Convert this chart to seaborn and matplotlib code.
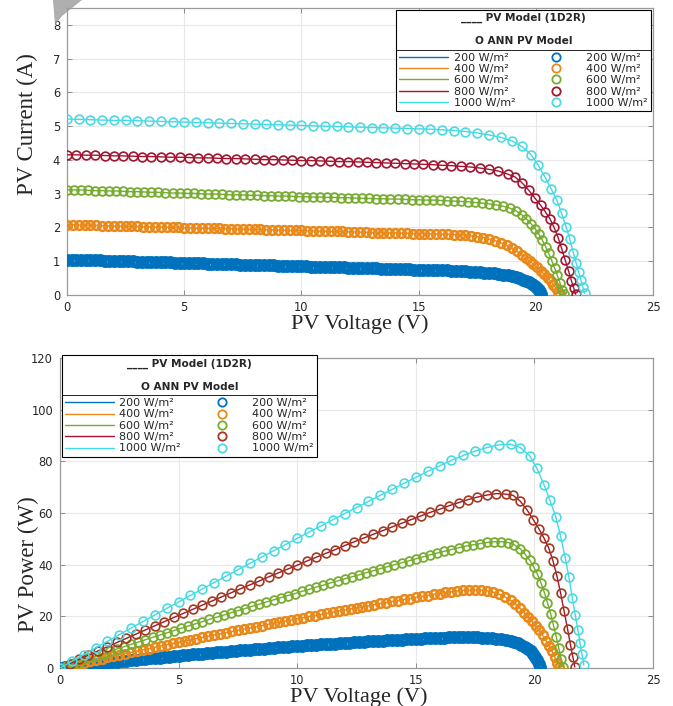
import numpy as np
import matplotlib
matplotlib.use("Agg")
import matplotlib.pyplot as plt
from matplotlib.lines import Line2D
from matplotlib.patches import Polygon
import seaborn as sns

# ---- data (I-V curves, power = V*I) ----
irradiance = ['200', '400', '600', '800', '1000']

v200 = [0, 0.2, 0.4, 0.6, 0.8, 1.0, 1.2, 1.4, 1.6, 1.8,
        2.0, 2.2, 2.4, 2.6, 2.8, 3.0, 3.2, 3.4, 3.6, 3.8,
        4.0, 4.2, 4.4, 4.6, 4.8, 5.0, 5.2, 5.4, 5.6, 5.8,
        6.0, 6.2, 6.4, 6.6, 6.8, 7.0, 7.2, 7.4, 7.6, 7.8,
        8.0, 8.2, 8.4, 8.6, 8.8, 9.0, 9.2, 9.4, 9.6, 9.8,
        10.0, 10.2, 10.4, 10.6, 10.8, 11.0, 11.2, 11.4, 11.6, 11.8,
        12.0, 12.2, 12.4, 12.6, 12.8, 13.0, 13.2, 13.4, 13.6, 13.8,
        14.0, 14.2, 14.4, 14.6, 14.8, 15.0, 15.2, 15.4, 15.6, 15.8,
        16.0, 16.2, 16.4, 16.6, 16.8,
        17.0, 17.2, 17.4, 17.6, 17.8, 18.0, 18.2, 18.4, 18.6, 18.8,
        19.0, 19.15, 19.3, 19.45, 19.6, 19.72, 19.84, 19.95, 20.04, 20.12,
        20.18, 20.22]
i200 = [1.050, 1.046, 1.042, 1.038, 1.034, 1.030, 1.026, 1.022, 1.018, 1.014,
        1.010, 1.006, 1.002, 0.998, 0.994, 0.990, 0.986, 0.982, 0.978, 0.974,
        0.970, 0.966, 0.962, 0.958, 0.954, 0.950, 0.946, 0.942, 0.938, 0.934,
        0.930, 0.926, 0.922, 0.918, 0.914, 0.910, 0.906, 0.902, 0.898, 0.894,
        0.890, 0.886, 0.882, 0.878, 0.874, 0.870, 0.866, 0.862, 0.858, 0.854,
        0.850, 0.846, 0.842, 0.838, 0.834, 0.830, 0.826, 0.822, 0.818, 0.814,
        0.810, 0.806, 0.802, 0.798, 0.794, 0.790, 0.786, 0.782, 0.778, 0.774,
        0.770, 0.766, 0.762, 0.758, 0.754, 0.750, 0.746, 0.742, 0.738, 0.734,
        0.730, 0.726, 0.722, 0.718, 0.714,
        0.700, 0.692, 0.683, 0.673, 0.662, 0.650, 0.636, 0.620, 0.601, 0.578,
        0.550, 0.524, 0.494, 0.458, 0.416, 0.376, 0.330, 0.278, 0.220, 0.150,
        0.080, 0.020]

v400 = [0, 0.25, 0.5, 0.75, 1.0, 1.25, 1.5, 1.75, 2.0, 2.25,
        2.5, 2.75, 3.0, 3.25, 3.5, 3.75, 4.0, 4.25, 4.5, 4.75,
        5.0, 5.25, 5.5, 5.75, 6.0, 6.25, 6.5, 6.75, 7.0, 7.25,
        7.5, 7.75, 8.0, 8.25, 8.5, 8.75, 9.0, 9.25, 9.5, 9.75,
        10.0, 10.25, 10.5, 10.75, 11.0, 11.25, 11.5, 11.75, 12.0, 12.25,
        12.5, 12.75, 13.0, 13.25, 13.5, 13.75, 14.0, 14.25, 14.5, 14.75,
        15.0, 15.25, 15.5, 15.75, 16.0, 16.25, 16.5, 16.75, 17.0, 17.25,
        17.5,
        17.75, 18.0, 18.25, 18.5, 18.75, 19.0, 19.2, 19.4, 19.58, 19.75,
        19.9, 20.05, 20.2, 20.35, 20.5, 20.63, 20.75, 20.86, 20.95, 21.02]
i400 = [2.08, 2.08, 2.07, 2.07, 2.06, 2.06, 2.05, 2.05, 2.04, 2.04,
        2.04, 2.03, 2.03, 2.02, 2.02, 2.01, 2.01, 2.01, 2.00, 2.00,
        1.99, 1.99, 1.98, 1.98, 1.97, 1.97, 1.97, 1.96, 1.96, 1.95,
        1.95, 1.94, 1.94, 1.94, 1.93, 1.93, 1.92, 1.92, 1.91, 1.91,
        1.91, 1.90, 1.90, 1.89, 1.89, 1.88, 1.88, 1.88, 1.87, 1.87,
        1.86, 1.86, 1.85, 1.85, 1.85, 1.84, 1.84, 1.83, 1.83, 1.82,
        1.82, 1.82, 1.81, 1.81, 1.80, 1.80, 1.79, 1.78, 1.77, 1.75,
        1.73,
        1.70, 1.66, 1.61, 1.55, 1.47, 1.38, 1.29, 1.19, 1.09, 1.00,
        0.91, 0.82, 0.72, 0.62, 0.51, 0.41, 0.31, 0.20, 0.10, 0.02]

v600 = [0, 0.3, 0.6, 0.9, 1.2, 1.5, 1.8, 2.1, 2.4, 2.7,
        3.0, 3.3, 3.6, 3.9, 4.2, 4.5, 4.8, 5.1, 5.4, 5.7,
        6.0, 6.3, 6.6, 6.9, 7.2, 7.5, 7.8, 8.1, 8.4, 8.7,
        9.0, 9.3, 9.6, 9.9, 10.2, 10.5, 10.8, 11.1, 11.4, 11.7,
        12.0, 12.3, 12.6, 12.9, 13.2, 13.5, 13.8, 14.1, 14.4, 14.7,
        15.0, 15.3, 15.6, 15.9, 16.2, 16.5, 16.8, 17.1, 17.4, 17.7,
        18.0, 18.3, 18.6,
        18.9, 19.15, 19.4, 19.6, 19.8, 19.97, 20.13, 20.28, 20.42, 20.55,
        20.68, 20.8, 20.92, 21.03, 21.13, 21.22]
i600 = [3.12, 3.11, 3.11, 3.10, 3.09, 3.09, 3.08, 3.08, 3.07, 3.06,
        3.06, 3.05, 3.04, 3.04, 3.03, 3.02, 3.02, 3.01, 3.01, 3.00,
        2.99, 2.99, 2.98, 2.97, 2.97, 2.96, 2.95, 2.95, 2.94, 2.94,
        2.93, 2.93, 2.92, 2.91, 2.91, 2.90, 2.90, 2.89, 2.89, 2.88,
        2.88, 2.87, 2.86, 2.86, 2.85, 2.85, 2.84, 2.84, 2.83, 2.82,
        2.82, 2.81, 2.81, 2.80, 2.79, 2.78, 2.77, 2.76, 2.74, 2.72,
        2.70, 2.67, 2.63,
        2.57, 2.49, 2.38, 2.25, 2.11, 1.96, 1.80, 1.62, 1.43, 1.23,
        1.02, 0.80, 0.58, 0.36, 0.16, 0.02]

v800 = [0, 0.4, 0.8, 1.2, 1.6, 2.0, 2.4, 2.8, 3.2, 3.6,
        4.0, 4.4, 4.8, 5.2, 5.6, 6.0, 6.4, 6.8, 7.2, 7.6,
        8.0, 8.4, 8.8, 9.2, 9.6, 10.0, 10.4, 10.8, 11.2, 11.6,
        12.0, 12.4, 12.8, 13.2, 13.6, 14.0, 14.4, 14.8, 15.2, 15.6,
        16.0, 16.4, 16.8, 17.2, 17.6, 18.0, 18.4, 18.8,
        19.1, 19.4, 19.7, 19.95, 20.2, 20.4, 20.6, 20.78, 20.95, 21.1,
        21.25, 21.4, 21.52, 21.62, 21.7]
i800 = [4.15, 4.15, 4.14, 4.14, 4.13, 4.12, 4.12, 4.11, 4.10, 4.10,
        4.09, 4.08, 4.08, 4.07, 4.06, 4.06, 4.05, 4.04, 4.04, 4.03,
        4.02, 4.01, 4.01, 4.00, 3.99, 3.98, 3.98, 3.97, 3.96, 3.95,
        3.95, 3.94, 3.93, 3.92, 3.91, 3.90, 3.89, 3.88, 3.87, 3.86,
        3.84, 3.83, 3.81, 3.79, 3.76, 3.72, 3.67, 3.58,
        3.50, 3.33, 3.10, 2.88, 2.66, 2.47, 2.26, 2.00, 1.70, 1.38,
        1.04, 0.70, 0.42, 0.20, 0.02]

v1000 = [0, 0.5, 1.0, 1.5, 2.0, 2.5, 3.0, 3.5, 4.0, 4.5,
         5.0, 5.5, 6.0, 6.5, 7.0, 7.5, 8.0, 8.5, 9.0, 9.5,
         10.0, 10.5, 11.0, 11.5, 12.0, 12.5, 13.0, 13.5, 14.0, 14.5,
         15.0, 15.5, 16.0, 16.5, 17.0, 17.5, 18.0, 18.5, 19.0,
         19.4, 19.8, 20.1, 20.4, 20.65, 20.9, 21.1, 21.3, 21.45, 21.6,
         21.72, 21.83, 21.92, 22.0, 22.08]
i1000 = [5.21, 5.20, 5.19, 5.18, 5.17, 5.17, 5.16, 5.15, 5.14, 5.13,
         5.12, 5.11, 5.10, 5.09, 5.08, 5.07, 5.06, 5.05, 5.04, 5.03,
         5.02, 5.01, 5.00, 4.99, 4.98, 4.97, 4.96, 4.95, 4.94, 4.93,
         4.92, 4.91, 4.89, 4.87, 4.84, 4.80, 4.74, 4.67, 4.56,
         4.40, 4.15, 3.85, 3.48, 3.15, 2.80, 2.42, 2.00, 1.65, 1.25,
         0.95, 0.68, 0.45, 0.25, 0.05]

volts = [v200, v400, v600, v800, v1000]
amps = [i200, i400, i600, i800, i1000]

line_colors = ['#0072BD', '#E8891A', '#77AC30', '#A2142F', '#3DDCE6']
marker_colors_top = ['#0072BD', '#E8891A', '#77AC30', '#A2142F', '#4DD9E3']
marker_colors_bot = ['#0072BD', '#E8891A', '#77AC30', '#A3391E', '#4DD9E3']
marker_edge = [3.0, 1.8, 1.3, 1.2, 1.2]

sns.set_theme(style="whitegrid")
plt.rcParams['font.family'] = ['DejaVu Sans']

fig = plt.figure(figsize=(6.73, 7.06), dpi=100)
ax1 = fig.add_axes([0.0996, 0.5822, 0.8707, 0.4065])
ax2 = fig.add_axes([0.0892, 0.0538, 0.8811, 0.4391])

for k in range(5):
    v = np.array(volts[k])
    cur = np.array(amps[k])
    pw = v * cur
    for ax, y, mc in ((ax1, cur, marker_colors_top[k]), (ax2, pw, marker_colors_bot[k])):
        sns.lineplot(x=v, y=y, ax=ax, color=line_colors[k], lw=1.0,
                     sort=False, estimator=None, zorder=3)
        sns.lineplot(x=v, y=y, ax=ax, color=mc, marker='o', ls='none', ms=6.3,
                     mfc='none', mec=mc, mew=marker_edge[k],
                     sort=False, estimator=None, zorder=3)

serif = ['Liberation Serif', 'DejaVu Serif']
for ax in (ax1, ax2):
    ax.set_facecolor('white')
    ax.set_xlim(0, 25)
    ax.set_xticks([0, 5, 10, 15, 20, 25])
    ax.grid(True, color='#e8e8e8', lw=0.8)
    ax.tick_params(direction='in', length=3.5, width=0.7, color='#8c8c8c',
                   labelsize=8.3, labelcolor='#262626',
                   bottom=True, left=True, top=True, right=True,
                   labeltop=False, labelright=False)
    ax.tick_params(axis='x', pad=4)
    ax.tick_params(axis='y', pad=5)
    for s in ax.spines.values():
        s.set_color('#9a9a9a')
        s.set_linewidth(0.9)
    ax.set_xlabel('PV Voltage (V)', fontfamily=serif, fontsize=16, color='#262626')

ax1.set_ylim(0, 8.5)
ax1.set_yticks(range(0, 9))
ax1.set_ylabel('PV Current (A)', fontfamily=serif, fontsize=16.5, color='#262626')
ax2.set_ylim(0, 120)
ax2.set_yticks(range(0, 121, 20))
ax2.set_ylabel('PV Power (W)', fontfamily=serif, fontsize=16.5, color='#262626')

ax1.xaxis.set_label_coords(0.5, -0.068)
ax1.yaxis.set_label_coords(-0.05, 0.596)
ax2.xaxis.set_label_coords(0.503, -0.061)
ax2.yaxis.set_label_coords(-0.036, 0.335)


def add_legend(ax, marker_colors, loc, anchor):
    handles = [Line2D([], [], color=c, lw=1.0) for c in line_colors]
    handles += [Line2D([], [], color=c, marker='o', ls='none', mfc='none',
                       mew=1.3, ms=6) for c in marker_colors]
    labels = [g + ' W/m²' for g in irradiance] * 2
    leg = ax.legend(handles, labels, ncol=2, loc=loc, bbox_to_anchor=anchor,
                    title='____ PV Model (1D2R)\n\nO ANN PV Model',
                    title_fontproperties={'weight': 'bold', 'size': 7.6},
                    fontsize=8, handlelength=4.4, handletextpad=0.5,
                    labelspacing=0.12, columnspacing=1.5, borderpad=0.3,
                    borderaxespad=0.15, frameon=True, fancybox=False,
                    framealpha=1, edgecolor='black', facecolor='white')
    leg.get_frame().set_linewidth(0.8)
    leg.get_title().set_multialignment('center')
    leg._legend_box.sep = 4.5
    leg.set_zorder(10)
    return leg


leg1 = add_legend(ax1, marker_colors_top, 'upper right', (1.0, 1.0))
leg2 = add_legend(ax2, marker_colors_bot, 'upper left', (0.0, 1.015))

# separator line between the legend titles and the entries
fig.canvas.draw()
renderer = fig.canvas.get_renderer()
inv = fig.transFigure.inverted()
for leg in (leg1, leg2):
    fb = leg.get_frame().get_window_extent(renderer)
    tb = leg.get_title().get_window_extent(renderer)
    hb = leg._legend_handle_box.get_window_extent(renderer)
    ysep = (tb.y0 + hb.y1) / 2
    (x0, y0), (x1, _) = inv.transform([(fb.x0, ysep), (fb.x1, ysep)])
    fig.add_artist(Line2D([x0, x1], [y0, y0], color='black', lw=0.6,
                          transform=fig.transFigure, zorder=11))

# grey smudge at the top-left corner of the scanned figure
fig.add_artist(Polygon([(53 / 673, 1.0), (82 / 673, 1.0), (62 / 673, 1 - 16 / 706),
                        (55 / 673, 1 - 25 / 706)], closed=True,
                       transform=fig.transFigure, facecolor='#9b9b9b',
                       edgecolor='none', alpha=0.8, zorder=12))

fig.savefig('out.png', dpi=100)
